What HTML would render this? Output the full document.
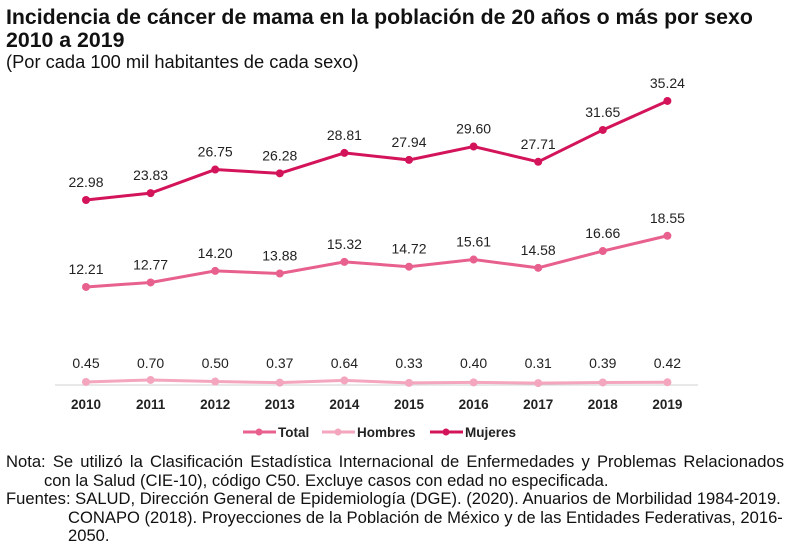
<!DOCTYPE html>
<html><head><meta charset="utf-8"><style>
body{margin:0;width:793px;height:548px;background:#fff;font-family:"Liberation Sans",Arial,sans-serif;overflow:hidden;position:relative}
.t{position:absolute;left:6px;color:#111;white-space:nowrap}
</style></head><body>
<div class="t" style="top:6px;font-size:21.3px;font-weight:bold;line-height:23px">Incidencia de cáncer de mama en la población de 20 años o más por sexo<br>2010 a 2019</div>
<div class="t" style="top:51px;font-size:18.3px">(Por cada 100 mil habitantes de cada sexo)</div>
<svg id="c" width="793" height="548" style="position:absolute;left:0;top:0"></svg>
<div class="t" style="top:453px;font-size:16.6px;line-height:18.5px;width:780px">
<div style="text-align:justify;text-align-last:justify;width:778px">Nota: Se utilizó la Clasificación Estadística Internacional de Enfermedades y Problemas Relacionados</div>
<div style="padding-left:38px">con la Salud (CIE-10), código C50. Excluye casos con edad no especificada.</div>
<div>Fuentes: SALUD, Dirección General de Epidemiología (DGE). (2020). Anuarios de Morbilidad 1984-2019.</div>
<div style="padding-left:62px">CONAPO (2018). Proyecciones de la Población de México y de las Entidades Federativas, 2016-</div>
<div style="padding-left:62px">2050.</div>
</div>
<script>
const years=["2010","2011","2012","2013","2014","2015","2016","2017","2018","2019"];
const total=[12.21,12.77,14.20,13.88,15.32,14.72,15.61,14.58,16.66,18.55];
const hombres=[0.45,0.70,0.50,0.37,0.64,0.33,0.40,0.31,0.39,0.42];
const mujeres=[22.98,23.83,26.75,26.28,28.81,27.94,29.60,27.71,31.65,35.24];
const svg=document.getElementById('c');const NS='http://www.w3.org/2000/svg';
function x(i){return 86+i*64.6;}
function y(v){return 385.6-v*8.077;}
function mk(t,a){const e=document.createElementNS(NS,t);for(const k in a)e.setAttribute(k,a[k]);svg.appendChild(e);return e;}
const ax=mk('line',{x1:55,x2:698,y1:385,y2:385,stroke:'#d0d0d0','stroke-width':1});


years.forEach((yr,i)=>{const t=mk('text',{x:x(i),y:409,'text-anchor':'middle','font-size':13.5,'font-weight':'bold',fill:'#222'});t.textContent=yr;

});
const series=[["hombres",hombres,'#f4a6be'],["total",total,'#e8608e'],["mujeres",mujeres,'#d4145a']];
series.forEach(([n,d,c])=>{
const p=mk('polyline',{points:d.map((v,i)=>x(i)+','+y(v)).join(' '),fill:'none',stroke:c,'stroke-width':3});


d.forEach((v,i)=>{const ci=mk('circle',{cx:x(i),cy:y(v),r:4,fill:c});


const t=mk('text',{x:x(i),y:n==='hombres'?368:y(v)-13,'text-anchor':'middle','font-size':14,fill:'#222'});t.textContent=v.toFixed(2);

});
});
const leg=[["Total",243,'#e8608e'],["Hombres",322,'#f4a6be'],["Mujeres",430,'#d4145a']];
leg.forEach(([l,lx,c])=>{
const g=mk('line',{x1:lx,x2:lx+33,y1:432,y2:432,stroke:c,'stroke-width':3});


mk('circle',{cx:lx+16,cy:432,r:3.5,fill:c});
const t=mk('text',{x:lx+35,y:437,'font-size':13.5,'font-weight':'bold',fill:'#222'});t.textContent=l;

});
</script>
</body></html>
